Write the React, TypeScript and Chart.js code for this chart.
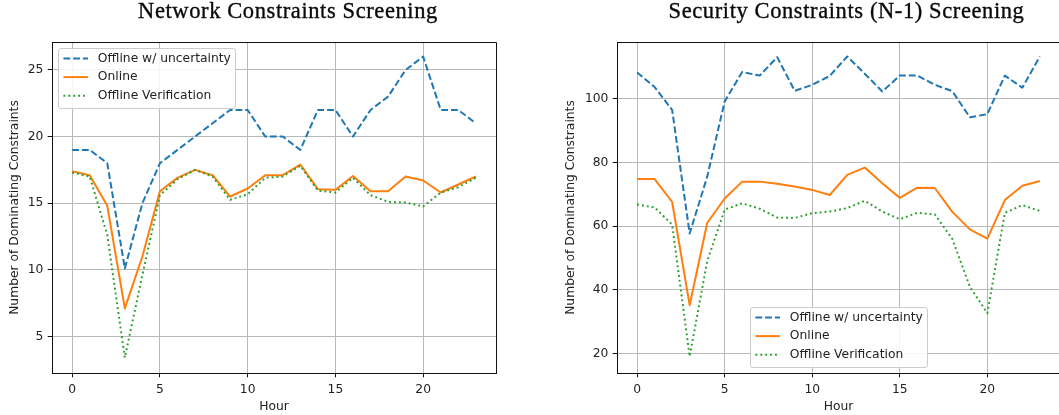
import React, { useEffect, useRef } from "react";
import { Chart, registerables } from "chart.js";

Chart.register(...registerables);

// ---------- data ----------
const hours = [0, 1, 2, 3, 4, 5, 6, 7, 8, 9, 10, 11, 12, 13, 14, 15, 16, 17, 18, 19, 20, 21, 22, 23];
const seriesLabels = ["Offline w/ uncertainty", "Online", "Offline Verification"];

// Network Constraints Screening
const netOfflineUnc = [19, 19, 18, 10.1, 15, 18, 19, 20, 21, 22, 22, 20, 20, 19, 22, 22, 20, 22, 23, 25, 26, 22, 22, 21];
const netOnline = [17.4, 17.1, 14.8, 7.1, 11, 15.9, 16.9, 17.5, 17.1, 15.5, 16.1, 17.1, 17.1, 17.9, 16.05, 16, 17.04, 15.9, 15.9, 17, 16.7, 15.8, 16.4, 17];
const netVerif = [17.3, 17, 12.6, 3.4, 9.6, 15.6, 16.8, 17.5, 17, 15.25, 15.67, 16.9, 17, 17.8, 15.95, 15.8, 16.9, 15.6, 15.1, 15.05, 14.75, 15.8, 16.2, 16.9];

// Security Constraints (N-1) Screening
const secOfflineUnc = [108.3, 103.7, 96.5, 57.7, 75.5, 99.2, 108.4, 107.3, 113.1, 102.5, 104.4, 107.2, 113.3, 107.9, 102.3, 107.3, 107.3, 104.4, 102.4, 94.2, 95.2, 107.3, 103.5, 113.3];
const secOnline = [74.8, 74.8, 67.6, 35.2, 61, 68.7, 74, 74, 73.3, 72.5, 71.4, 69.8, 76.1, 78.4, 73.5, 68.9, 72.1, 72, 64.5, 59, 56.1, 68.2, 72.7, 74.2];
const secVerif = [66.8, 65.9, 60.5, 19.1, 49, 65.2, 67.2, 65.5, 62.7, 62.6, 64.1, 64.6, 65.7, 68, 64.6, 62.2, 64.2, 63.7, 56, 41, 32.7, 64.2, 66.6, 64.8];

const xLimits = [-1.15, 24.15];
const netYLimits = [2.25, 27.1];
const secYLimits = [13.9, 117.85];
const xTickStep = 5;
const netYStep = 5;
const secYStep = 20;

// ---------- styles ----------
const COLORS = ["#1f77b4", "#ff7f0e", "#2ca02c"];
const DASHES = [[6.8, 2.95], [], [1.9, 3.0]];
const FS = 12.3;
const SANS = "'DejaVu Sans', sans-serif";
const TXT = "#222222";

const decorPlugin = {
  id: "decor",
  afterDraw(chart: any, _args: any, opts: any) {
    const { ctx, chartArea: a } = chart;
    ctx.save();
    // full frame (spines)
    ctx.strokeStyle = "#111";
    ctx.lineWidth = 1;
    ctx.setLineDash([]);
    ctx.beginPath();
    ctx.rect(Math.round(a.left) + 0.5, Math.round(a.top) + 0.5, Math.round(a.right - a.left), Math.round(a.bottom - a.top));
    ctx.stroke();

    // title
    ctx.font = `22.5px 'Liberation Serif', serif`;
    (ctx as any).letterSpacing = "0.6px";
    ctx.fillStyle = "#0a0a0a";
    ctx.textAlign = "center";
    ctx.textBaseline = "alphabetic";
    ctx.fillText(opts.title, opts.titleX, opts.titleY);
    ctx.lineWidth = 0.35;
    ctx.strokeStyle = "#0a0a0a";
    ctx.strokeText(opts.title, opts.titleX, opts.titleY);
    (ctx as any).letterSpacing = "0px";

    // legend
    ctx.font = `${FS}px ${SANS}`;
    const ds = chart.data.datasets;
    const textW = Math.max(...ds.map((d: any) => ctx.measureText(d.label).width));
    const pad = 0.4 * FS;
    const hl = 2 * FS;
    const htp = 0.8 * FS;
    const boxW = pad + hl + htp + textW + pad;
    const boxH = 59.7;
    const axPad = 0.5 * FS;
    let bx: number, by: number;
    if (opts.legendPos === "upper left") {
      bx = a.left + axPad;
      by = a.top + axPad;
    } else {
      bx = (a.left + a.right) / 2 - boxW / 2;
      by = a.bottom - axPad - boxH;
    }
    bx = Math.round(bx) + 0.5;
    by = Math.round(by) + 0.5;
    ctx.beginPath();
    (ctx as any).roundRect(bx, by, Math.round(boxW), Math.round(boxH), 2.5);
    ctx.fillStyle = "rgba(255,255,255,0.85)";
    ctx.fill();
    ctx.strokeStyle = "#cccccc";
    ctx.lineWidth = 1;
    ctx.stroke();

    ds.forEach((d: any, i: number) => {
      const y = by + 10 + i * 18.6;
      ctx.beginPath();
      ctx.setLineDash(d.borderDash || []);
      ctx.lineWidth = d.borderWidth;
      ctx.strokeStyle = d.borderColor;
      ctx.lineCap = "butt";
      ctx.moveTo(bx + pad, y);
      ctx.lineTo(bx + pad + hl, y);
      ctx.stroke();
      ctx.setLineDash([]);
      ctx.fillStyle = TXT;
      ctx.textAlign = "left";
      ctx.textBaseline = "middle";
      ctx.fillText(d.label, bx + pad + hl + htp, y);
    });
    ctx.restore();
  },
};

function makeDatasets(seriesList: number[][]) {
  return seriesList.map((vals, i) => ({
    label: seriesLabels[i],
    data: hours.map((h, j) => ({ x: h, y: vals[j] })),
    borderColor: COLORS[i],
    backgroundColor: COLORS[i],
    borderWidth: 2,
    borderDash: DASHES[i],
    borderCapStyle: "butt",
    borderJoinStyle: "round",
    pointRadius: 0,
    tension: 0,
    fill: false,
    order: 2 - i,
  }));
}

type PanelProps = {
  left: number;
  width: number;
  series: number[][];
  yLimits: number[];
  yStep: number;
  title: string;
  titleX: number;
  legendPos: string;
  padLeft: number;
  padRight: number;
  yAxisWidth: number;
};

function Panel(p: PanelProps) {
  const ref = useRef<HTMLCanvasElement | null>(null);
  useEffect(() => {
    if (!ref.current) return;
    const tickFont = { family: SANS, size: FS };
    const chart = new Chart(ref.current, {
      type: "line",
      data: { datasets: makeDatasets(p.series) as any },
      plugins: [decorPlugin],
      options: {
        animation: false,
        responsive: true,
        maintainAspectRatio: false,
        events: [],
        layout: { padding: { top: 42, left: p.padLeft, right: p.padRight, bottom: 0 } },
        plugins: {
          legend: { display: false },
          tooltip: { enabled: false },
          title: { display: false },
          decor: { title: p.title, titleX: p.titleX, titleY: 17.5, legendPos: p.legendPos },
        } as any,
        scales: {
          x: {
            type: "linear",
            min: xLimits[0],
            max: xLimits[1],
            ticks: { stepSize: xTickStep, includeBounds: false, font: tickFont, color: TXT, padding: 5.3, maxRotation: 0 },
            grid: { color: "#b8b8b8", lineWidth: 1, tickColor: "#111", tickLength: 4.3, tickWidth: 1 },
            border: { color: "#111", width: 1 },
            title: { display: true, text: "Hour", font: tickFont, color: TXT, padding: { top: 0, bottom: 0.8 } },
            afterFit: (axis: any) => {
              axis.height = 42;
            },
          },
          y: {
            type: "linear",
            min: p.yLimits[0],
            max: p.yLimits[1],
            ticks: { stepSize: p.yStep, includeBounds: false, font: tickFont, color: TXT, padding: 4.3 },
            grid: { color: "#b8b8b8", lineWidth: 1, tickColor: "#111", tickLength: 4.3, tickWidth: 1 },
            border: { color: "#111", width: 1 },
            title: {
              display: true,
              text: "Number of Dominating Constraints",
              font: tickFont,
              color: TXT,
              padding: { top: 7.1, bottom: 0 },
            },
            afterFit: (axis: any) => {
              axis.width = p.yAxisWidth;
            },
          },
        },
      } as any,
    });
    return () => chart.destroy();
  }, []);
  return (
    <div style={{ position: "absolute", left: p.left, top: 0, width: p.width, height: 415 }}>
      <canvas ref={ref} />
    </div>
  );
}

export default function App() {
  return (
    <div
      style={{
        position: "absolute",
        left: 0,
        top: 0,
        width: 1059,
        height: 415,
        overflow: "hidden",
        background: "#fff",
      }}
    >
      <Panel
        left={0}
        width={530}
        series={[netOfflineUnc, netOnline, netVerif]}
        yLimits={netYLimits}
        yStep={netYStep}
        title="Network Constraints Screening"
        titleX={288}
        legendPos="upper left"
        padLeft={0}
        padRight={34}
        yAxisWidth={52}
      />
      <Panel
        left={530}
        width={531}
        series={[secOfflineUnc, secOnline, secVerif]}
        yLimits={secYLimits}
        yStep={secYStep}
        title="Security Constraints (N-1) Screening"
        titleX={316.5}
        legendPos="lower center"
        padLeft={26}
        padRight={1}
        yAxisWidth={61}
      />
    </div>
  );
}
